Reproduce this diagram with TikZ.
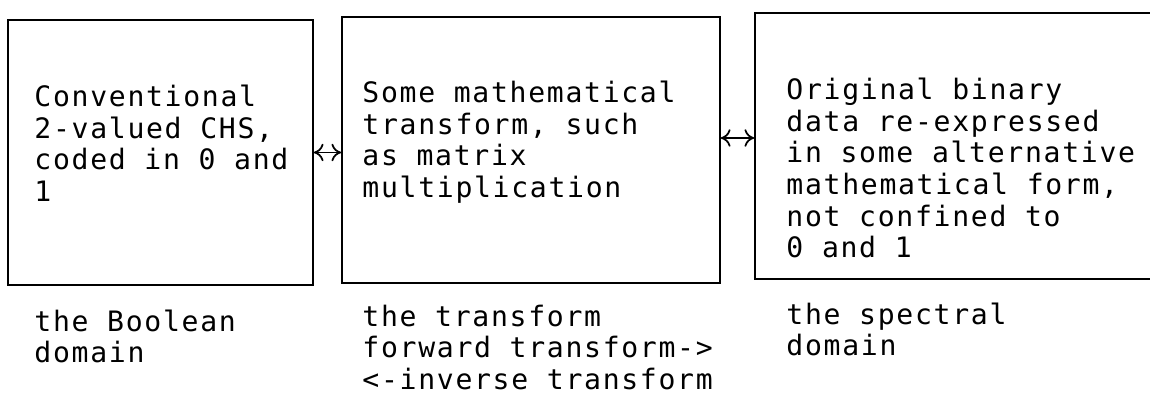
\documentclass[tikz,border=0pt]{standalone}
\usepackage{fontspec}
\setmonofont[LetterSpace=6]{DejaVu Sans Mono}
\usetikzlibrary{positioning, arrows.meta}

\begin{document}
\begin{tikzpicture}[
    every node/.style={font=\ttfamily\fontsize{16pt}{18pt}\selectfont},
    box/.style={draw, line width=1pt, minimum width=#1, minimum height=5.3cm, inner sep=0pt},
    txt/.style={anchor=north west, align=left, inner sep=0pt},
    link/.style={{To[length=5.5pt, width=10pt]}-{To[length=5.5pt, width=10pt]}, line width=1pt},
  ]
  \useasboundingbox (0,0) rectangle (23,7.92);

  % ---- Boxes ----
  \node[box=6.1cm] (bool) at (3.21,4.87) {};
  \node[box=7.56cm, minimum height=5.32cm] (trans) at (10.62,4.92) {};
  \node[box=8.1cm, minimum height=5.32cm] (spec) at (19.15,5.0) {};

  % ---- Box contents ----
  \node[txt] (boolText) at ([xshift=0.54cm, yshift=-1.31cm]bool.north west) {Conventional\\2-valued CHS,\\coded in 0 and\\1};
  \node[txt] (transText) at ([xshift=0.42cm, yshift=-1.29cm]trans.north west) {Some mathematical\\transform, such\\as matrix\\multiplication};
  \node[txt] (specText) at ([xshift=0.64cm, yshift=-1.31cm]spec.north west) {Original binary\\data re-expressed\\in some alternative\\mathematical form,\\not confined to\\0 and 1};

  % ---- Labels under the boxes ----
  \node[txt] (boolLbl) at ([xshift=0.54cm, yshift=-0.47cm]bool.south west) {the Boolean\\domain};
  \node[txt] (transLbl) at ([xshift=0.42cm, yshift=-0.41cm]trans.south west) {the transform\\forward transform->\\<-inverse transform};
  \node[txt] (specLbl) at ([xshift=0.64cm, yshift=-0.45cm]spec.south west) {the spectral\\domain};

  % ---- Arrows between boxes ----
  \draw[link] (bool.east) -- (bool.east -| trans.west);
  \coordinate (mid2) at ([yshift=0.24cm]trans.east);
  \draw[link] (mid2) -- (mid2 -| spec.west);

\end{tikzpicture}
\end{document}
